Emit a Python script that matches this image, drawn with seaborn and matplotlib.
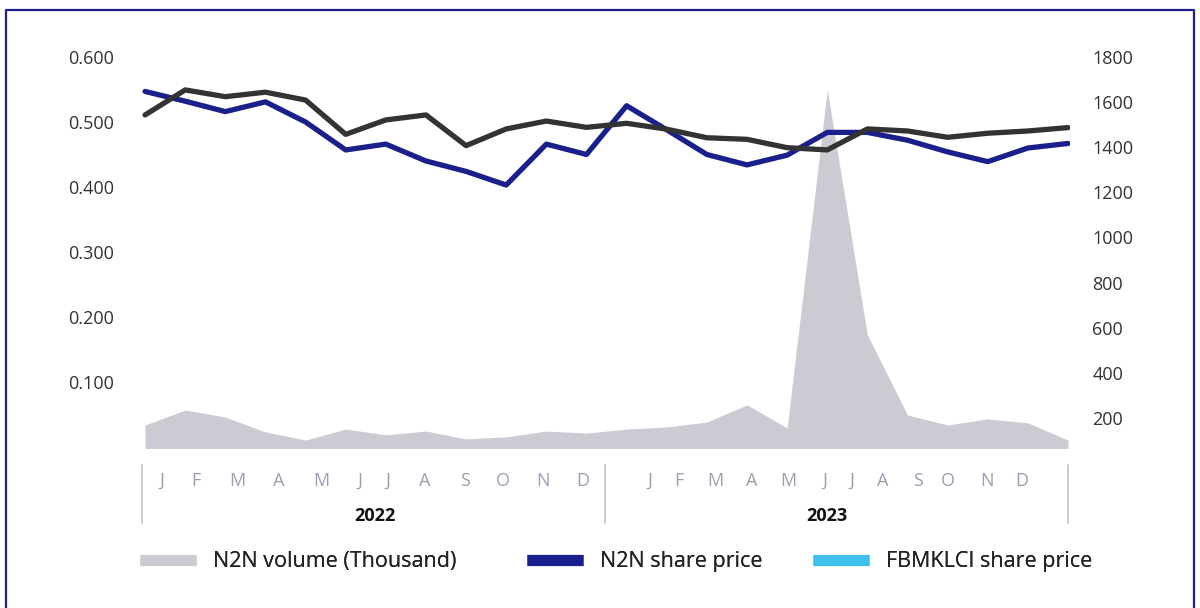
import matplotlib
matplotlib.use("Agg")
import matplotlib.pyplot as plt
import matplotlib.transforms as mtransforms
from matplotlib.lines import Line2D
import seaborn as sns
import pandas as pd
import numpy as np

# ---------------- data ----------------
months = ["J", "F", "M", "A", "M", "J", "J", "A", "S", "O", "N", "D"]
years = ["2022", "2023"]

n2n_price = [0.547, 0.532, 0.516, 0.531, 0.500, 0.457, 0.466, 0.440, 0.424, 0.403, 0.466, 0.450,
             0.525, 0.488, 0.450, 0.434, 0.449, 0.484, 0.484, 0.472, 0.454, 0.439, 0.460, 0.467]
fbmklci = [1543, 1654, 1624, 1644, 1609, 1457, 1521, 1543, 1407, 1481, 1516, 1488,
           1506, 1480, 1442, 1435, 1398, 1388, 1481, 1472, 1444, 1462, 1472, 1487]
n2n_volume = [169, 235, 204, 138, 102, 151, 125, 142, 107, 116, 142, 133,
              151, 160, 182, 258, 156, 1654, 568, 213, 169, 196, 178, 102]

left_ticks = [0.1, 0.2, 0.3, 0.4, 0.5, 0.6]
right_ticks = [200, 400, 600, 800, 1000, 1200, 1400, 1600, 1800]

legend_labels = ["N2N volume (Thousand)", "N2N share price", "FBMKLCI share price"]

# label positions along the month index axis (as laid out in the original)
month_tick_pos = [0.42, 1.26, 2.29, 3.34, 4.38, 5.36, 6.05, 6.98, 7.97, 8.92, 9.92, 10.91,
                  12.58, 13.31, 14.21, 15.12, 16.02, 16.94, 17.61, 18.38, 19.26, 20.01, 20.97, 21.85]
year_pos = [5.73, 17.0]
separator_pos = [-0.08, 11.46, 23.0]

df = pd.DataFrame({
    "idx": np.arange(len(n2n_price)),
    "n2n": n2n_price,
    "klci": fbmklci,
    "vol": n2n_volume,
})

# ---------------- style ----------------
sns.set_theme(style="white")
plt.rcParams["font.family"] = ["Open Sans", "DejaVu Sans"]

C_BLUE = "#1b1f8c"
C_DARK = "#333333"
C_GREY = "#cbcbd3"
C_CYAN = "#3ebfec"
C_MONTH = "#9c9eb0"
C_TICK = "#333333"

fig = plt.figure(figsize=(12, 6.08), dpi=100)
fig.patch.set_facecolor("white")

ax_area = fig.add_axes([0.1167, 0.2632, 0.775, 0.6546])
ax = ax_area.twinx()
ax2 = ax_area.twinx()

ax_area.set_zorder(0)
ax.set_zorder(1)
ax2.set_zorder(2)
for a in (ax, ax2):
    a.patch.set_visible(False)

xlim = (-0.125, 23.05)
left_lim = (-0.0015, 0.6108)
right_lim = (67, 1831)

# volume area (right scale)
ax_area.fill_between(df["idx"], df["vol"], 0, color=C_GREY, linewidth=0)
ax_area.set_ylim(*right_lim)
ax_area.set_yticks([])

# N2N share price (left scale)
sns.lineplot(data=df, x="idx", y="n2n", ax=ax, color=C_BLUE, linewidth=3.8, legend=False)
ax.set_ylim(*left_lim)

# FBMKLCI (right scale)
sns.lineplot(data=df, x="idx", y="klci", ax=ax2, color=C_DARK, linewidth=3.8, legend=False)
ax2.set_ylim(*right_lim)

for a in (ax_area, ax, ax2):
    for s in a.spines.values():
        s.set_visible(False)
    a.set_xlabel("")
    a.set_ylabel("")
    a.grid(False)

ax_area.set_xlim(*xlim)

# left axis ticks on ax (left side)
ax.yaxis.set_ticks_position("left")
ax.yaxis.set_label_position("left")
ax.set_yticks(left_ticks)
ax.set_yticklabels([f"{v:.3f}" for v in left_ticks])
ax.tick_params(axis="y", length=0, pad=19, labelsize=13, labelcolor=C_TICK)

ax2.set_yticks(right_ticks)
ax2.set_yticklabels([str(v) for v in right_ticks])
ax2.tick_params(axis="y", length=0, pad=16, labelsize=13, labelcolor=C_TICK)

# month tick labels (shared x axis)
ax_area.set_xticks(month_tick_pos)
ax_area.set_xticklabels(months * 2)
ax_area.tick_params(axis="x", length=0, pad=17, labelsize=13, labelcolor=C_MONTH,
                    labelbottom=True)
for a in (ax, ax2):
    a.tick_params(axis="x", length=0, labelbottom=False, labeltop=False)
ax_area.set_xlim(*xlim)

trans = mtransforms.blended_transform_factory(ax_area.transData, ax_area.transAxes)
for yx, ylab in zip(year_pos, years):
    ax_area.text(yx, -0.171, ylab, transform=trans, ha="center", va="center",
                 fontsize=13, fontweight="bold", color="#111111")
for sx in separator_pos:
    ax_area.add_line(Line2D([sx, sx], [-0.0427, -0.188], transform=trans,
                            color="#c8c8cc", linewidth=1.3, clip_on=False))

# legend: one entry per slot, as laid out in the original
legend_colors = [C_GREY, C_BLUE, C_CYAN]
legend_x = [0.1003, 0.4228, 0.6612]
for col, lab, lx in zip(legend_colors, legend_labels, legend_x):
    h = Line2D([0], [0], color=col, linewidth=8, solid_capstyle="butt")
    leg = fig.legend([h], [lab], loc="center left", bbox_to_anchor=(lx, 1 - 562 / 608),
                     frameon=False, fontsize=15.5, handlelength=2.6, handletextpad=0.8,
                     labelcolor="#222222")
    fig.add_artist(leg)

# outer frame (left, top, right)
frame_col = "#1b1f8c"
fx0, fx1 = 6 / 1200, 1194 / 1200
fy_top = 1 - 10 / 608
fig.add_artist(Line2D([fx0, fx0, fx1, fx1], [0, fy_top, fy_top, 0],
                      transform=fig.transFigure, color=frame_col, linewidth=1.6))

fig.savefig("out.png", dpi=100, facecolor="white")
